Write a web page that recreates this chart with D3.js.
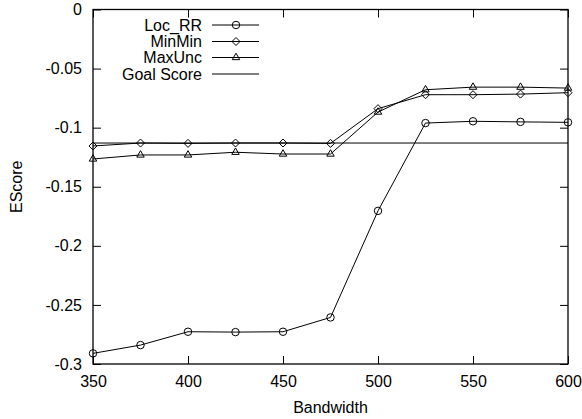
<!DOCTYPE html>
<html>
<head>
<meta charset="utf-8">
<script src="https://cdn.jsdelivr.net/npm/d3@7"></script>
<style>
  body { margin: 0; background: #fff; }
  text { font-family: "Liberation Sans", Arial, Helvetica, sans-serif; font-size: 16px; fill: #000; }
</style>
</head>
<body>
<div id="chart"></div>
<script>
const bandwidth = [350, 375, 400, 425, 450, 475, 500, 525, 550, 575, 600];
const locRR  = [-0.291, -0.284, -0.2727, -0.273, -0.2727, -0.2606, -0.1704, -0.0961, -0.0946, -0.0951, -0.0955];
const minMin = [-0.1155, -0.113, -0.1133, -0.113, -0.113, -0.1133, -0.0839, -0.0721, -0.0721, -0.0716, -0.0704];
const maxUnc = [-0.1265, -0.1231, -0.1231, -0.1208, -0.1223, -0.1223, -0.0868, -0.0679, -0.0657, -0.0657, -0.0665];
const goalScore = -0.113;
const xTicks = [350, 400, 450, 500, 550, 600];
const yTicks = [0, -0.05, -0.1, -0.15, -0.2, -0.25, -0.3];

const w = 582, h = 419;
const pLeft = 93, pRight = 568, pTop = 9.5, pBottom = 364;

const svg = d3.select('#chart').append('svg')
  .attr('width', w).attr('height', h);

const x = d3.scaleLinear().domain([350, 600]).range([pLeft, pRight]);
const y = d3.scaleLinear().domain([-0.3, 0]).range([pBottom, pTop]);

// ticks on all four sides, pointing inward
const tickLen = 8;
svg.append('g').attr('transform', 'translate(0,' + pBottom + ')')
  .call(d3.axisBottom(x).tickValues(xTicks).tickSize(-tickLen).tickPadding(12).tickFormat(d3.format('d')))
  .call(g => g.select('.domain').remove());
svg.append('g').attr('transform', 'translate(0,' + pTop + ')')
  .call(d3.axisTop(x).tickValues(xTicks).tickSize(-tickLen).tickFormat(''))
  .call(g => g.select('.domain').remove());
svg.append('g').attr('transform', 'translate(' + pLeft + ',0)')
  .call(d3.axisLeft(y).tickValues(yTicks).tickSize(-tickLen).tickPadding(11)
    .tickFormat(d => d === 0 ? '0' : String(+d.toFixed(2))))
  .call(g => g.select('.domain').remove());
svg.append('g').attr('transform', 'translate(' + pRight + ',0)')
  .call(d3.axisRight(y).tickValues(yTicks).tickSize(-tickLen).tickFormat(''))
  .call(g => g.select('.domain').remove());

svg.selectAll('.tick line').attr('stroke', '#000').attr('stroke-width', 1);
svg.selectAll('.tick text').style('font-size', '16px').style('font-family', '"Liberation Sans", Arial, sans-serif');

// frame
svg.append('rect')
  .attr('x', pLeft).attr('y', pTop)
  .attr('width', pRight - pLeft).attr('height', pBottom - pTop)
  .attr('fill', 'none').attr('stroke', '#000').attr('stroke-width', 1.3);

// axis titles
svg.append('text').attr('x', (pLeft + pRight) / 2).attr('y', 413)
  .attr('text-anchor', 'middle').text('Bandwidth');
svg.append('text')
  .attr('transform', 'translate(22,' + ((pTop + pBottom) / 2) + ') rotate(-90)')
  .attr('text-anchor', 'middle').text('EScore');

const diamondPath = 'M0,-4L4,0L0,4L-4,0Z';
const series = [
  { name: 'Loc_RR', values: locRR, sym: d3.symbol().type(d3.symbolCircle).size(44)() },
  { name: 'MinMin', values: minMin, sym: diamondPath },
  { name: 'MaxUnc', values: maxUnc, sym: d3.symbol().type(d3.symbolTriangle).size(24)() }
];

const line = d3.line().x(d => x(d[0])).y(d => y(d[1]));

// goal score line
svg.append('path')
  .attr('d', line([[350, goalScore], [600, goalScore]]))
  .attr('fill', 'none').attr('stroke', '#000').attr('stroke-width', 1);

series.forEach(s => {
  const pts = bandwidth.map((b, i) => [b, s.values[i]]);
  svg.append('path').attr('d', line(pts))
    .attr('fill', 'none').attr('stroke', '#000').attr('stroke-width', 1);
  svg.append('g').selectAll('path').data(pts).enter().append('path')
    .attr('d', s.sym)
    .attr('transform', d => 'translate(' + x(d[0]) + ',' + y(d[1]) + ')')
    .attr('fill', 'none').attr('stroke', '#000').attr('stroke-width', 1);
});

// legend
const legend = [
  { name: 'Loc_RR', sym: series[0].sym },
  { name: 'MinMin', sym: series[1].sym },
  { name: 'MaxUnc', sym: series[2].sym },
  { name: 'Goal Score', sym: null }
];
const legY = [25, 41.5, 57.5, 74];
const lg = svg.append('g');
legend.forEach((l, i) => {
  lg.append('text').attr('x', 202).attr('y', legY[i]).attr('dy', '0.35em')
    .attr('text-anchor', 'end').text(l.name);
  lg.append('line').attr('x1', 212).attr('x2', 259).attr('y1', legY[i]).attr('y2', legY[i])
    .attr('stroke', '#000').attr('stroke-width', 1);
  if (l.sym) {
    lg.append('path').attr('d', l.sym)
      .attr('transform', 'translate(236,' + legY[i] + ')')
      .attr('fill', 'none').attr('stroke', '#000').attr('stroke-width', 1);
  }
});
</script>
</body>
</html>
